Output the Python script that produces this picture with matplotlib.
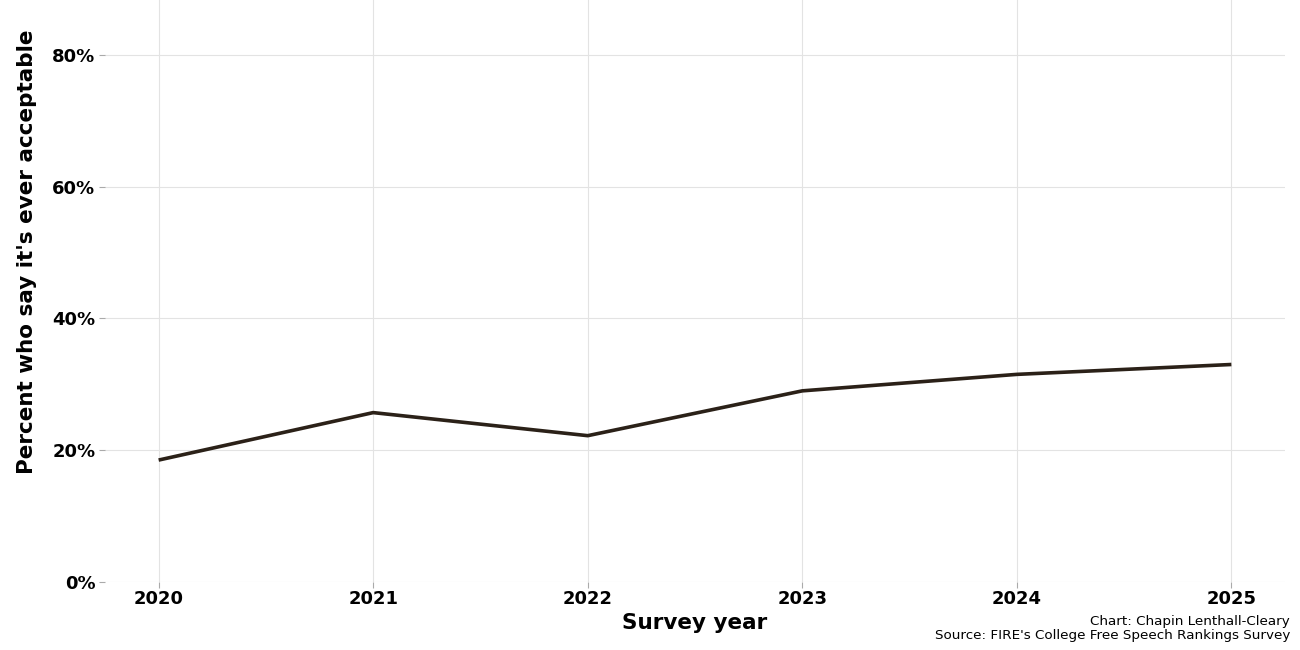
import matplotlib
matplotlib.use("Agg")
import matplotlib.pyplot as plt
from matplotlib.ticker import FuncFormatter

years = [2020, 2021, 2022, 2023, 2024, 2025]
pct = [18.5, 25.7, 22.2, 29.0, 31.5, 33.0]
y_ticks = [0, 20, 40, 60, 80]

fig = plt.figure(figsize=(13, 6.5), dpi=100)
ax = fig.add_axes([105/1300, 1 - 582/650, (1285 - 105)/1300, 582/650])
ax.plot(years, pct, color="#2b2118", linewidth=2.6, solid_capstyle="butt", zorder=3)

ax.set_xlim(2019.75, 2025.25)
ax.set_ylim(0, 88.3)
ax.set_xticks(years)
ax.set_yticks(y_ticks)
ax.yaxis.set_major_formatter(FuncFormatter(lambda v, p: f"{int(v)}%"))
ax.grid(True, color="#e3e3e3", linewidth=0.8)
ax.set_axisbelow(True)
for s in ax.spines.values():
    s.set_visible(False)
ax.tick_params(axis="both", length=4, color="#aaaaaa", width=0.8, labelsize=13)
for lab in ax.get_xticklabels() + ax.get_yticklabels():
    lab.set_fontweight("bold")
ax.tick_params(axis="x", pad=2)
ax.tick_params(axis="y", pad=3)

ax.set_xlabel("Survey year", fontsize=15.5, fontweight="bold")
ax.set_ylabel("Percent who say it's ever acceptable", fontsize=15.5, fontweight="bold")
ax.xaxis.set_label_coords(0.5, -0.054)
ax.yaxis.set_label_coords(-68/1180, (582 - 252)/582)

fig.text(1290/1300, 1 - 621/650, "Chart: Chapin Lenthall-Cleary", ha="right", va="center", fontsize=9.7)
fig.text(1290/1300, 1 - 636/650, "Source: FIRE's College Free Speech Rankings Survey", ha="right", va="center", fontsize=9.7)

fig.savefig("out.png", dpi=100)
